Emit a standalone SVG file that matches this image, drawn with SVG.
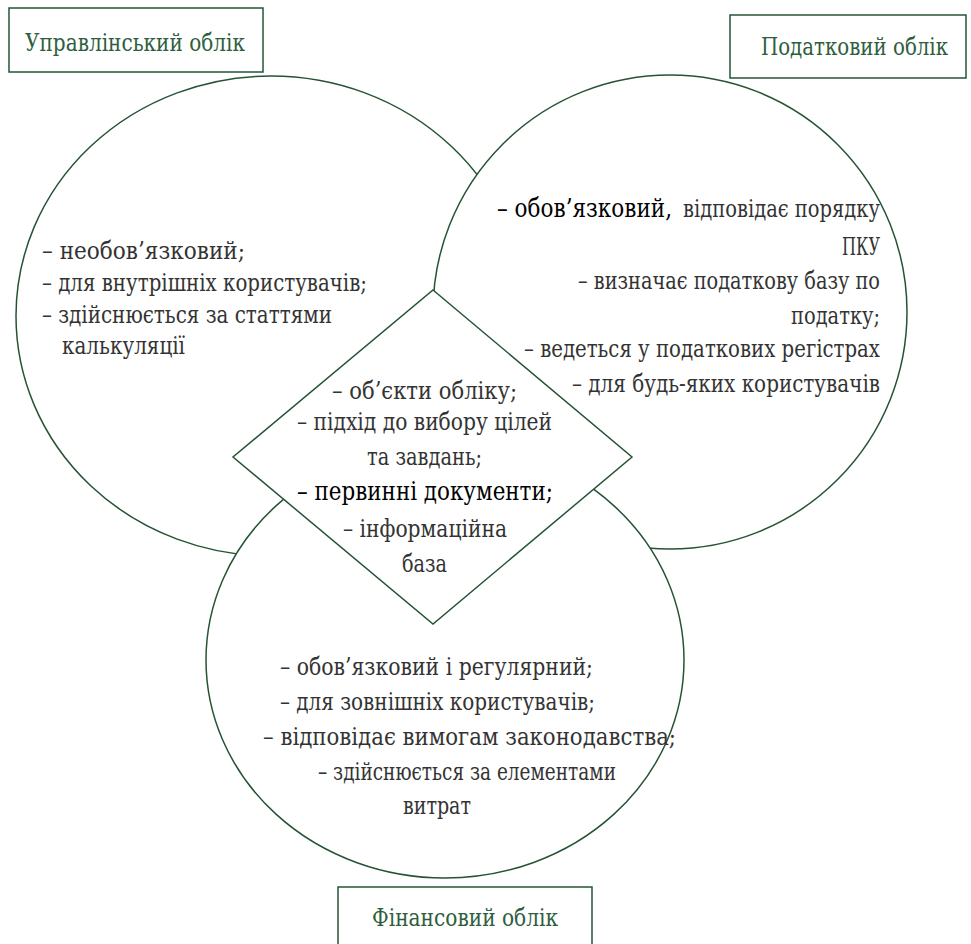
<svg xmlns="http://www.w3.org/2000/svg" width="971" height="944" viewBox="0 0 971 944">
<style>
.sh{fill:#fff;stroke:#255434;stroke-width:1.5}
.lb{font-family:'DejaVu Serif','Liberation Serif',serif;font-size:24px;fill:#2e5e3e}
.t{font-family:'DejaVu Serif','Liberation Serif',serif;font-size:24px;fill:#333}
.k{font-family:'DejaVu Serif','Liberation Serif',serif;font-size:25.5px;fill:#000}
</style>
<rect width="971" height="944" fill="#fff"/>
<g id="label-upr"><rect class="sh" x="9" y="8" width="254" height="64"/><text class="lb" x="25" y="51" textLength="220" lengthAdjust="spacingAndGlyphs">Управлінський облік</text></g>
<g id="label-pod"><rect class="sh" x="730" y="15" width="236" height="63"/><text class="lb" x="948" y="55" text-anchor="end" textLength="187" lengthAdjust="spacingAndGlyphs">Податковий облік</text></g>
<g id="circle-upr"><ellipse class="sh" cx="271" cy="316" rx="255" ry="240"/>
<text class="t" x="42" y="259" textLength="203" lengthAdjust="spacingAndGlyphs">–  необов’язковий;</text>
<text class="t" x="42" y="291" textLength="325" lengthAdjust="spacingAndGlyphs">– для внутрішніх користувачів;</text>
<text class="t" x="42" y="323" textLength="290" lengthAdjust="spacingAndGlyphs">– здійснюється за статтями</text>
<text class="t" x="62" y="354" textLength="123" lengthAdjust="spacingAndGlyphs">калькуляції</text></g>
<g id="circle-pod"><ellipse class="sh" cx="670" cy="312" rx="237" ry="237"/>
<text class="k" x="497" y="217" textLength="175" lengthAdjust="spacingAndGlyphs">– обов’язковий,</text>
<text class="t" x="683" y="217" textLength="197" lengthAdjust="spacingAndGlyphs">відповідає порядку</text>
<text class="t" x="842" y="255" textLength="38" lengthAdjust="spacingAndGlyphs">ПКУ</text>
<text class="t" x="578" y="289" textLength="302" lengthAdjust="spacingAndGlyphs">– визначає податкову базу по</text>
<text class="t" x="791" y="324" textLength="89" lengthAdjust="spacingAndGlyphs">податку;</text>
<text class="t" x="524" y="357" textLength="356" lengthAdjust="spacingAndGlyphs">– ведеться у податкових регістрах</text>
<text class="t" x="572" y="392" textLength="308" lengthAdjust="spacingAndGlyphs">– для будь-яких користувачів</text></g>
<g id="circle-fin"><ellipse class="sh" cx="445" cy="660" rx="239" ry="218"/>
<text class="t" x="280" y="675" textLength="313" lengthAdjust="spacingAndGlyphs">–  обов’язковий і регулярний;</text>
<text class="t" x="280" y="710" textLength="315" lengthAdjust="spacingAndGlyphs">– для зовнішніх користувачів;</text>
<text class="t" x="263" y="745" textLength="413" lengthAdjust="spacingAndGlyphs">– відповідає вимогам законодавства;</text>
<text class="t" x="318" y="780" textLength="298" lengthAdjust="spacingAndGlyphs">– здійснюється за елементами</text>
<text class="t" x="403" y="814" textLength="68" lengthAdjust="spacingAndGlyphs">витрат</text></g>
<g id="diamond"><polygon class="sh" points="433,290 632,457 433,624 233,457"/>
<text class="t" x="332" y="399" textLength="185" lengthAdjust="spacingAndGlyphs">–  об’єкти обліку;</text>
<text class="t" x="297" y="430" textLength="255" lengthAdjust="spacingAndGlyphs">– підхід до вибору цілей</text>
<text class="t" x="367" y="465" textLength="115" lengthAdjust="spacingAndGlyphs">та завдань;</text>
<text class="k" x="297" y="500" textLength="256" lengthAdjust="spacingAndGlyphs">– первинні документи;</text>
<text class="t" x="343" y="537" textLength="164" lengthAdjust="spacingAndGlyphs">– інформаційна</text>
<text class="t" x="402" y="572" textLength="45" lengthAdjust="spacingAndGlyphs">база</text></g>
<g id="label-fin"><rect class="sh" x="338" y="887" width="254" height="70"/><text class="lb" x="372" y="926" textLength="186" lengthAdjust="spacingAndGlyphs">Фінансовий облік</text></g>
<g id="connectors"></g>
</svg>
